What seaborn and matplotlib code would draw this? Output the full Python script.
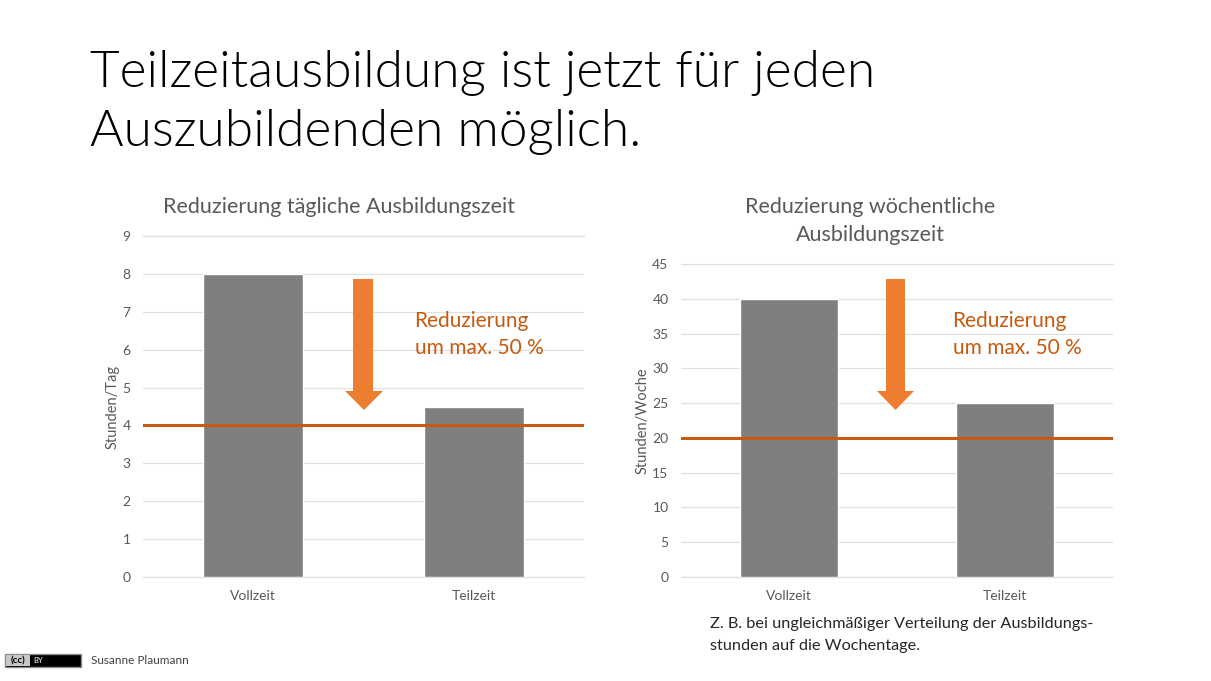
import matplotlib
matplotlib.use("Agg")
import matplotlib.pyplot as plt
from matplotlib.patches import Polygon, Rectangle
import pandas as pd
import seaborn as sns

kategorien = ["Vollzeit", "Teilzeit"]
stunden_tag = [8, 4.5]
stunden_woche = [40, 25]
grenze_tag = 4
grenze_woche = 20
ticks_tag = [0, 1, 2, 3, 4, 5, 6, 7, 8, 9]
ticks_woche = [0, 5, 10, 15, 20, 25, 30, 35, 40, 45]

GRAU = "#7f7f7f"
TEXT = "#595959"
ORANGE = "#c55a11"
PFEIL = "#ed7d31"
GITTER = "#e0e0e0"
B, H = 1211, 681

sns.set_theme(style="white")
plt.rcParams["font.family"] = ["Lato", "DejaVu Sans"]

fig = plt.figure(figsize=(B / 100, H / 100), dpi=100)


def achse(x0, x1, y0, y1):
    # Pixelkoordinaten von oben links
    return fig.add_axes([x0 / B, 1 - y1 / H, (x1 - x0) / B, (y1 - y0) / H])


def balken(ax, werte, grenze, ticks, ylabel):
    df = pd.DataFrame({"art": kategorien, "stunden": werte})
    sns.barplot(data=df, x="art", y="stunden", color=GRAU, saturation=1, width=0.452, ax=ax, zorder=3)
    ax.axhline(grenze, color=ORANGE, lw=2.2, zorder=4)
    ax.set_ylim(ticks[0], ticks[-1])
    ax.set_yticks(ticks)
    ax.yaxis.grid(True, color=GITTER, lw=0.9)
    ax.set_axisbelow(True)
    ax.set_xlabel("")
    ax.set_ylabel(ylabel, fontsize=10.5, color=TEXT, labelpad=2)
    ax.tick_params(axis="both", length=0, labelsize=10, labelcolor=TEXT, pad=9)
    sns.despine(ax=ax, left=True, bottom=False)
    ax.spines["bottom"].set_color(GITTER)
    ax.spines["bottom"].set_linewidth(0.9)
    ax.spines["top"].set_visible(True)
    ax.spines["top"].set_color(GITTER)
    ax.spines["top"].set_linewidth(0.9)


def pfeil(xl, xr, xkl, xkr, oben, kopf, spitze):
    mitte = (xkl + xkr) / 2
    punkte = [(xl, oben), (xr, oben), (xr, kopf), (xkr, kopf), (mitte, spitze), (xkl, kopf), (xl, kopf)]
    punkte = [(x / B, 1 - y / H) for x, y in punkte]
    fig.add_artist(Polygon(punkte, closed=True, transform=fig.transFigure, facecolor=PFEIL, edgecolor="none"))


def text(x, y, s, **kw):
    fig.text(x / B, 1 - y / H, s, **kw)


ax1 = achse(143, 584, 236, 577)
balken(ax1, stunden_tag, grenze_tag, ticks_tag, "Stunden/Tag")
ax2 = achse(681, 1113, 264, 577)
balken(ax2, stunden_woche, grenze_woche, ticks_woche, "Stunden/Woche")

pfeil(353, 373, 345, 383, 279, 391, 410)
pfeil(886, 905, 877, 914, 279, 391, 410)

text(90, 73, "Teilzeitausbildung ist jetzt für jeden", fontsize=37, fontweight=300, color="black", va="center")
text(90, 132, "Auszubildenden möglich.", fontsize=37, fontweight=300, color="black", va="center")

text(339, 207, "Reduzierung tägliche Ausbildungszeit", fontsize=15.5, color=TEXT, ha="center", va="center")
text(870, 207, "Reduzierung wöchentliche", fontsize=15.5, color=TEXT, ha="center", va="center")
text(870, 235, "Ausbildungszeit", fontsize=15.5, color=TEXT, ha="center", va="center")

for x in (415, 953):
    text(x - 1, 321, "Reduzierung", fontsize=15, color=ORANGE, va="center")
    text(x, 348, "um max. 50 %", fontsize=15, color=ORANGE, va="center")

text(710, 624, "Z. B. bei ungleichmäßiger Verteilung der Ausbildungs-", fontsize=11.7, color="#262626", va="center")
text(710, 646, "stunden auf die Wochentage.", fontsize=11.7, color="#262626", va="center")

# CC-BY Badge unten links
fig.add_artist(Rectangle((5 / B, 1 - 667 / H), 76 / B, 13 / H, transform=fig.transFigure,
                         facecolor="black", edgecolor="#8c8c8c", lw=1))
fig.add_artist(Rectangle((6 / B, 1 - 666 / H), 24 / B, 11 / H, transform=fig.transFigure,
                         facecolor="#c8c8c8", edgecolor="none"))
text(18, 660.5, "(cc)", fontsize=7, fontweight="bold", color="black", ha="center", va="center")
text(38, 660.5, "BY", fontsize=5.5, color="white", ha="center", va="center")
text(91, 660, "Susanne Plaumann", fontsize=8.5, color="#404040", va="center")

fig.savefig("out.png", dpi=100, facecolor="white")
